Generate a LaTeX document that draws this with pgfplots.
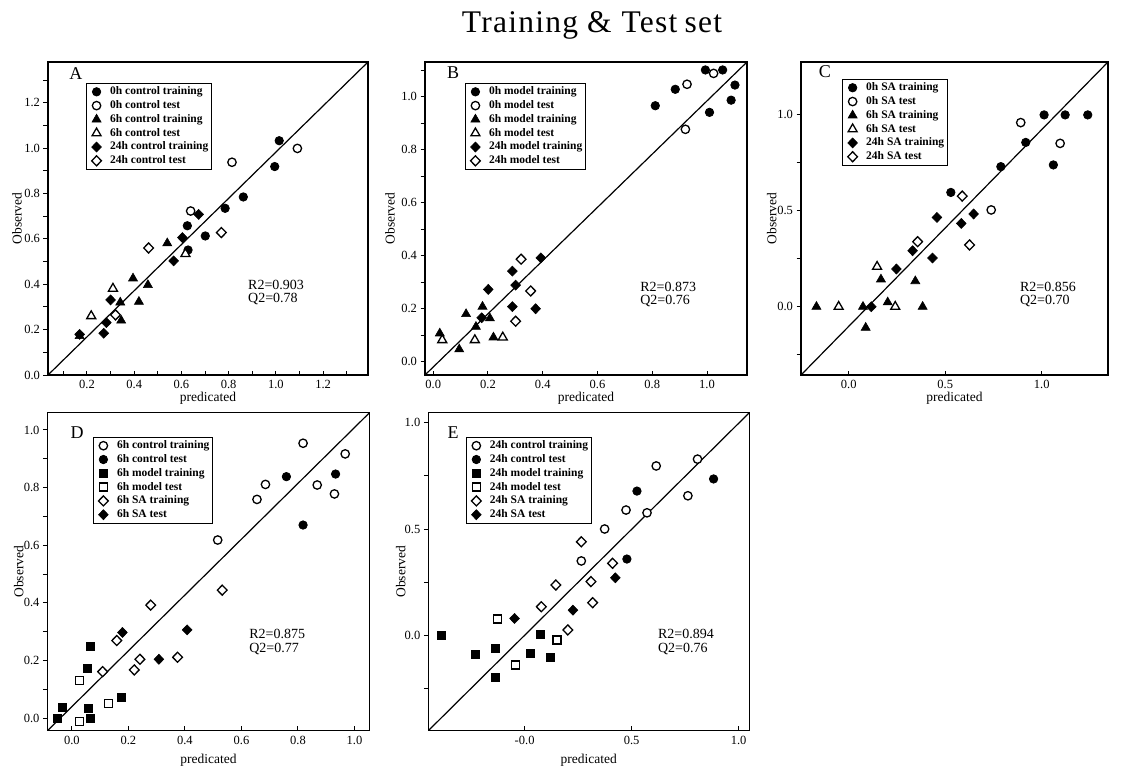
\documentclass[border=0pt]{standalone}
\usepackage{fontspec}
\setmainfont{Liberation Serif}
\newfontfamily\titlefont[LetterSpace=4]{Liberation Serif}
\usepackage{pgfplots}
\pgfplotsset{compat=1.18}
\pgfplotsset{
  /pgf/number format/assume math mode=true,
  /pgf/number format/fixed,
  /pgf/number format/fixed zerofill,
  /pgf/number format/precision=1,
}
\tikzset{
  rq/.style={anchor=north west, align=left, inner sep=0pt, font=\fontsize{14}{13.5}\selectfont},
  letter/.style={font=\fontsize{18}{18}\selectfont},
}
\pgfplotsset{
  panel/.style={
    scale only axis,
    axis line style={line width=1.4pt},
    tick style={black, line width=1pt},
    xtick align=inside, ytick align=outside,
    tick pos=left,
    major tick length=4.5pt, minor tick length=4.5pt,
    tick label style={font=\fontsize{12.5}{13}\selectfont},
    xticklabel style={yshift=-2pt},
    label style={font=\fontsize{13.5}{14}\selectfont},
    xlabel={predicated}, ylabel={Observed},
    legend cell align=left,
    legend image code/.code={\draw[draw=none] (0cm,0cm) -- (0.55cm,0cm); \draw[##1] plot coordinates {(0.3cm,0cm)};},
    legend style={draw=black, line width=0.9pt, fill=white,
      font=\bfseries\fontsize{11.5}{11.5}\selectfont,
      inner sep=1.5pt, row sep=0pt,
      /tikz/every odd column/.append style={column sep=5pt},
      nodes={inner sep=1.5pt, text height=8.3pt, text depth=2.5pt}},
  },
  diag/.style={black, line width=1.2pt, forget plot, no markers},
  fc/.style={only marks, mark=*, mark size=4.2pt, mark options={draw=black, fill=black, line width=0.8pt}},
  oc/.style={only marks, mark=*, mark size=4.2pt, mark options={draw=black, fill=white, line width=1.3pt}},
  ft/.style={only marks, mark=triangle*, mark size=5.2pt, mark options={draw=black, fill=black, line width=0.6pt}},
  ot/.style={only marks, mark=triangle*, mark size=5.2pt, mark options={draw=black, fill=white, line width=1.3pt}},
  fd/.style={only marks, mark=diamond*, mark size=5pt, mark options={draw=black, fill=black, line width=0.6pt, xscale=1.3}},
  od/.style={only marks, mark=diamond*, mark size=5pt, mark options={draw=black, fill=white, line width=1.3pt, xscale=1.3}},
  fs/.style={only marks, mark=square*, mark size=4pt, mark options={draw=black, fill=black, line width=0.6pt}},
  os/.style={only marks, mark=square*, mark size=4pt, mark options={draw=black, fill=white, line width=1.3pt}},
}
\begin{document}
\begin{tikzpicture}
\useasboundingbox (0pt,0pt) rectangle (1121pt,-773pt);
\node[font=\titlefont\fontsize{31.5}{33}\selectfont, anchor=base] at (592pt,-33pt)
  {Training\hspace{9pt}\&\hspace{10pt}Test\hspace{-2pt} set};

% ---------------- A ----------------
\begin{axis}[panel, at={(48pt,-375pt)}, anchor=south west, width=320pt, height=313pt,
  xmin=0.035, xmax=1.39, ymin=0, ymax=1.38,
  xtick={0.2,0.4,0.6,0.8,1.0,1.2}, minor xtick={0.1,0.3,0.5,0.7,0.9,1.1,1.3},
  ytick={0,0.2,0.4,0.6,0.8,1.0,1.2}, minor ytick={0.1,0.3,0.5,0.7,0.9,1.1,1.3},
  xlabel style={at={(axis description cs:0.5,-0.073)}, anchor=center},
  ylabel style={at={(axis description cs:-0.097,0.5)}, anchor=center},
  legend style={at={(0.119,0.933)}, anchor=north west}]
\addplot[diag] coordinates {(0.035,0) (1.39,1.38)};
\addplot[fc] coordinates {(1.014,1.033) (0.995,0.919) (0.862,0.785) (0.785,0.735) (0.701,0.613) (0.625,0.658) (0.628,0.551)};
\addlegendentry{0h control training}
\addplot[oc] coordinates {(1.091,0.999) (0.814,0.938) (0.639,0.723)};
\addlegendentry{0h control test}
\addplot[ft] coordinates {(0.540,0.581) (0.395,0.426) (0.458,0.397) (0.420,0.323) (0.341,0.320) (0.345,0.240) (0.169,0.172)};
\addlegendentry{6h control training}
\addplot[ot] coordinates {(0.218,0.260) (0.310,0.381) (0.617,0.534)};
\addlegendentry{6h control test}
\addplot[fd] coordinates {(0.673,0.708) (0.604,0.606) (0.567,0.503) (0.300,0.331) (0.282,0.231) (0.271,0.184) (0.169,0.179)};
\addlegendentry{24h control training}
\addplot[od] coordinates {(0.461,0.560) (0.769,0.628) (0.321,0.265)};
\addlegendentry{24h control test}
\node[letter] at (rel axis cs:0.0875,0.962) {A};
\node[rq] at (rel axis cs:0.625,0.304) {R2=0.903\\Q2=0.78};
\end{axis}

% ---------------- B ----------------
\begin{axis}[panel, at={(425pt,-375pt)}, anchor=south west, width=322pt, height=313pt,
  xmin=-0.03, xmax=1.146, ymin=-0.05, ymax=1.131,
  xtick={0,0.2,0.4,0.6,0.8,1.0},
  ytick={0,0.2,0.4,0.6,0.8,1.0}, minor ytick={0.1,0.3,0.5,0.7,0.9,1.1},
  xlabel style={at={(axis description cs:0.5,-0.073)}, anchor=center},
  ylabel style={at={(axis description cs:-0.109,0.5)}, anchor=center},
  legend style={at={(0.124,0.933)}, anchor=north west}]
\addplot[diag] coordinates {(-0.03,-0.05) (1.146,1.131)};
\addplot[fc] coordinates {(0.994,1.101) (1.057,1.101) (0.884,1.028) (0.811,0.966) (1.102,1.044) (1.088,0.987) (1.009,0.941)};
\addlegendentry{0h model training}
\addplot[oc] coordinates {(1.024,1.088) (0.927,1.047) (0.921,0.877)};
\addlegendentry{0h model test}
\addplot[ft] coordinates {(0.024,0.107) (0.120,0.180) (0.180,0.208) (0.207,0.164) (0.156,0.132) (0.220,0.092) (0.095,0.047)};
\addlegendentry{6h model training}
\addplot[ot] coordinates {(0.033,0.082) (0.152,0.082) (0.254,0.092)};
\addlegendentry{6h model test}
\addplot[fd] coordinates {(0.393,0.392) (0.289,0.342) (0.201,0.273) (0.301,0.289) (0.289,0.208) (0.374,0.200) (0.177,0.166)};
\addlegendentry{24h model training}
\addplot[od] coordinates {(0.321,0.387) (0.356,0.267) (0.301,0.153)};
\addlegendentry{24h model test}
\node[letter] at (rel axis cs:0.087,0.965) {B};
\node[rq] at (rel axis cs:0.668,0.298) {R2=0.873\\Q2=0.76};
\end{axis}

% ---------------- C ----------------
\begin{axis}[panel, at={(801pt,-375pt)}, anchor=south west, width=307pt, height=313pt,
  xmin=-0.247, xmax=1.343, ymin=-0.355, ymax=1.272,
  xtick={0,0.5,1.0},
  ytick={0,0.5,1.0}, minor ytick={-0.25,0.25,0.75},
  xlabel style={at={(axis description cs:0.5,-0.073)}, anchor=center},
  ylabel style={at={(axis description cs:-0.095,0.5)}, anchor=center},
  legend style={at={(0.134,0.946)}, anchor=north west}]
\addplot[diag] coordinates {(-0.247,-0.355) (1.343,1.272)};
\addplot[fc] coordinates {(1.012,0.997) (1.121,0.997) (1.238,0.997) (0.917,0.854) (0.788,0.728) (1.060,0.737) (0.529,0.594)};
\addlegendentry{0h SA training}
\addplot[oc] coordinates {(0.891,0.957) (1.095,0.849) (0.738,0.503)};
\addlegendentry{0h SA test}
\addplot[ft] coordinates {(-0.167,0) (0.074,0) (0.088,-0.109) (0.167,0.142) (0.202,0.023) (0.345,0.133) (0.383,0)};
\addlegendentry{6h SA training}
\addplot[ot] coordinates {(-0.052,0) (0.147,0.208) (0.241,0)};
\addlegendentry{6h SA test}
\addplot[fd] coordinates {(0.117,0) (0.247,0.196) (0.331,0.291) (0.434,0.253) (0.457,0.464) (0.583,0.433) (0.647,0.482)};
\addlegendentry{24h SA training}
\addplot[od] coordinates {(0.357,0.338) (0.588,0.575) (0.626,0.321)};
\addlegendentry{24h SA test}
\node[letter] at (rel axis cs:0.078,0.968) {C};
\node[rq] at (rel axis cs:0.713,0.298) {R2=0.856\\Q2=0.70};
\end{axis}

% ---------------- D ----------------
\begin{axis}[panel, at={(47.5pt,-730.7pt)}, anchor=south west, width=322pt, height=318pt,
  xmin=-0.086, xmax=1.053, ymin=-0.044, ymax=1.06,
  xtick={0,0.2,0.4,0.6,0.8,1.0},
  ytick={0,0.2,0.4,0.6,0.8,1.0}, minor ytick={0.1,0.3,0.5,0.7,0.9},
  xlabel style={at={(axis description cs:0.5,-0.094)}, anchor=center},
  ylabel style={at={(axis description cs:-0.089,0.5)}, anchor=center},
  legend style={at={(0.141,0.924)}, anchor=north west}]
\addplot[diag] coordinates {(-0.086,-0.044) (1.053,1.06)};
\addplot[oc] coordinates {(0.818,0.954) (0.967,0.917) (0.685,0.811) (0.655,0.759) (0.868,0.809) (0.929,0.778) (0.516,0.618)};
\addlegendentry{6h control training}
\addplot[fc] coordinates {(0.759,0.838) (0.933,0.847) (0.818,0.670)};
\addlegendentry{6h control test}
\addplot[fs] coordinates {(0.065,0.250) (0.056,0.172) (-0.032,0.036) (-0.053,-0.001) (0.059,0.034) (0.067,-0.001) (0.176,0.071)};
\addlegendentry{6h model training}
\addplot[os] coordinates {(0.027,0.130) (0.129,0.051) (0.027,-0.013)};
\addlegendentry{6h model test}
\addplot[od] coordinates {(0.279,0.392) (0.159,0.269) (0.109,0.161) (0.241,0.204) (0.221,0.167) (0.374,0.211) (0.532,0.444)};
\addlegendentry{6h SA training}
\addplot[fd] coordinates {(0.179,0.297) (0.308,0.204) (0.408,0.306)};
\addlegendentry{6h SA test}
\node[letter] at (rel axis cs:0.092,0.936) {D};
\node[rq] at (rel axis cs:0.626,0.319) {R2=0.875\\Q2=0.77};
\end{axis}

% ---------------- E ----------------
\begin{axis}[panel, at={(428.3pt,-730.7pt)}, anchor=south west, width=321pt, height=318pt,
  xmin=-0.45, xmax=1.05, ymin=-0.446, ymax=1.047,
  xtick={0,0.5,1.0}, xticklabels={-0.0,0.5,1.0},
  ytick={0,0.5,1.0}, minor ytick={-0.25,0.25,0.75},
  xlabel style={at={(axis description cs:0.5,-0.094)}, anchor=center},
  ylabel style={at={(axis description cs:-0.086,0.5)}, anchor=center},
  legend style={at={(0.117,0.924)}, anchor=north west}]
\addplot[diag] coordinates {(-0.45,-0.446) (1.05,1.047)};
\addplot[oc] coordinates {(0.808,0.829) (0.615,0.797) (0.763,0.657) (0.474,0.590) (0.572,0.577) (0.374,0.501) (0.265,0.351)};
\addlegendentry{24h control training}
\addplot[fc] coordinates {(0.883,0.736) (0.525,0.679) (0.478,0.360)};
\addlegendentry{24h control test}
\addplot[fs] coordinates {(-0.389,0) (-0.231,-0.086) (-0.137,-0.059) (-0.137,-0.196) (0.073,0.008) (0.026,-0.083) (0.120,-0.102)};
\addlegendentry{24h model training}
\addplot[os] coordinates {(-0.126,0.078) (-0.044,-0.138) (0.151,-0.020)};
\addlegendentry{24h model test}
\addplot[od] coordinates {(0.265,0.441) (0.411,0.340) (0.146,0.238) (0.310,0.254) (0.078,0.136) (0.318,0.155) (0.202,0.027)};
\addlegendentry{24h SA training}
\addplot[fd] coordinates {(-0.047,0.081) (0.226,0.120) (0.424,0.272)};
\addlegendentry{24h SA test}
\node[letter] at (rel axis cs:0.077,0.936) {E};
\node[rq] at (rel axis cs:0.715,0.319) {R2=0.894\\Q2=0.76};
\end{axis}
\end{tikzpicture}
\end{document}
